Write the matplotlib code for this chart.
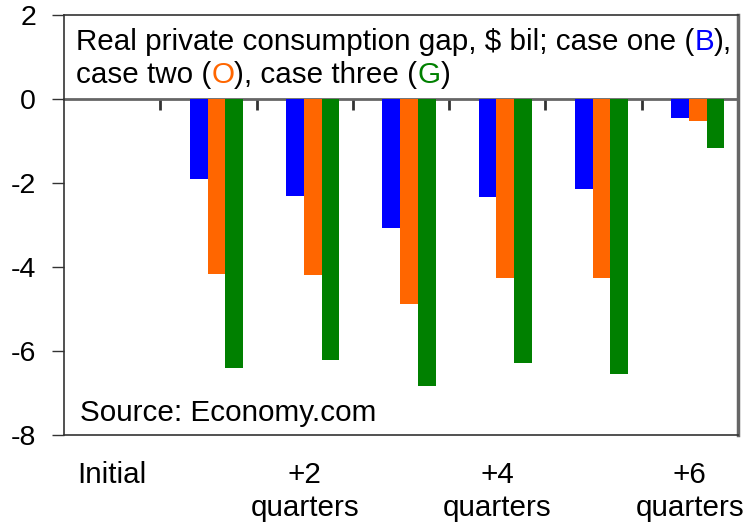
import matplotlib
matplotlib.use("Agg")
import matplotlib.pyplot as plt
import numpy as np

plt.rcParams['font.family'] = ['Liberation Sans', 'DejaVu Sans']

categories = ["Initial", "+1", "+2\nquarters", "+3", "+4\nquarters", "+5", "+6\nquarters"]
tick_labels = ["Initial", "", "+2\nquarters", "", "+4\nquarters", "", "+6\nquarters"]
case_one = [np.nan, -1.90, -2.31, -3.07, -2.33, -2.14, -0.45]
case_two = [np.nan, -4.17, -4.19, -4.88, -4.25, -4.26, -0.52]
case_three = [np.nan, -6.40, -6.21, -6.83, -6.29, -6.55, -1.17]
series = [case_one, case_two, case_three]
colors = ["#0000FF", "#FF6600", "#008000"]
yticks = [2, 0, -2, -4, -6, -8]

FS = 21.3

fig = plt.figure(figsize=(7.48, 5.26), dpi=100)
W, H = 748, 526
ax = fig.add_axes([64 / W, 1 - 435 / H, (738 - 64) / W, (435 - 15) / H])

x = np.arange(len(categories))
bw = 0.184
shift = 0.083
for i, (vals, c) in enumerate(zip(series, colors)):
    ax.bar(x + shift + (i - 1) * bw, vals, width=bw, color=c, edgecolor='none', zorder=2)

ax.set_xlim(-0.5, len(categories) - 0.5)
ax.set_ylim(-8, 2)
ax.set_yticks(yticks)
ax.set_yticklabels([str(v) for v in yticks], fontsize=20.5)
ax.tick_params(axis='y', direction='out', length=9, width=1, pad=11, color='#333333')

ax.set_xticks(x)
ax.set_xticklabels(tick_labels, fontsize=FS, linespacing=1.22)
ax.tick_params(axis='x', length=0, pad=19)

for s in ['left', 'top', 'bottom']:
    ax.spines[s].set_color('#333333')
    ax.spines[s].set_linewidth(1.2)
ax.spines['right'].set_color('#666666')
ax.spines['right'].set_linewidth(2.5)

# zero line with category separator ticks
sec = ax.secondary_xaxis(0.8)
sec.set_xticks(np.arange(len(categories)) + 0.5)
sec.tick_params(direction='in', length=8, width=2, color='#333333', labelbottom=False, labeltop=False)
sec.spines['top'].set_color('#666666')
sec.spines['top'].set_linewidth(2)
for s in ['bottom', 'left', 'right']:
    sec.spines[s].set_visible(False)

# multi-coloured annotation text
def chained(pieces, x0, y0):
    prev = None
    for txt, col in pieces:
        if prev is None:
            prev = ax.text(x0, y0, txt, transform=ax.transAxes, color=col,
                           fontsize=FS, va='baseline', ha='left', zorder=5)
        else:
            prev = ax.annotate(txt, xy=(1, y0), xycoords=(prev, 'axes fraction'),
                               color=col, fontsize=FS, va='baseline', ha='left', zorder=5)

fig.canvas.draw()
line1 = [("Real private consumption gap, \\$ bil; case one (", "black"),
         ("B", colors[0]), ("),", "black")]
line2 = [("case two (", "black"), ("O", colors[1]), ("), case three (", "black"),
         ("G", colors[2]), (")", "black")]
chained(line1, 12 / 674, 1 - (50 - 15) / 420)
chained(line2, 12 / 674, 1 - (83 - 15) / 420)
ax.text(16 / 674, (435 - 421) / 420, "Source: Economy.com", transform=ax.transAxes,
        fontsize=FS, va='baseline', ha='left')

fig.savefig("out.png", dpi=100)
